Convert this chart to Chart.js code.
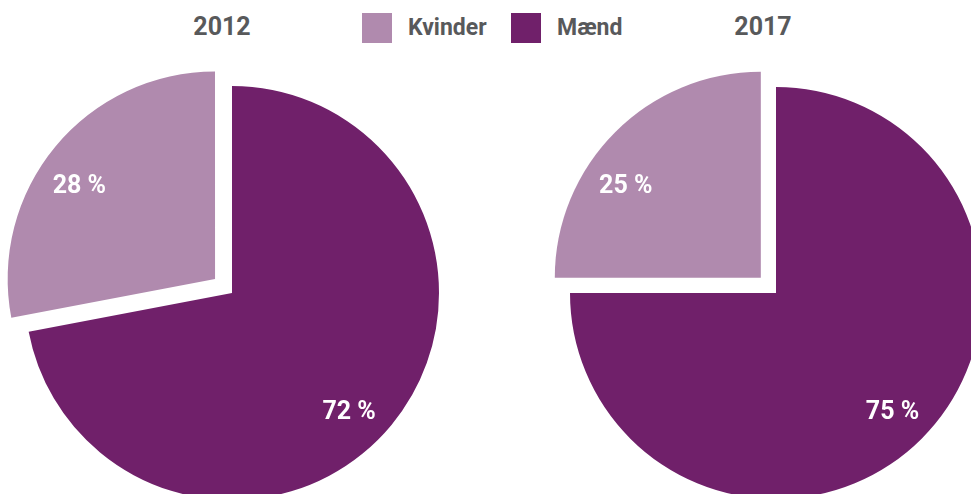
<!DOCTYPE html>
<html lang="da">
<head>
<meta charset="utf-8">
<title>Kvinder og mænd 2012 / 2017</title>
<script src="https://cdn.jsdelivr.net/npm/chart.js@4.4.0/dist/chart.umd.min.js"></script>
<style>
  html, body { margin: 0; padding: 0; background: #fff; }
  body { position: relative; width: 971px; height: 494px; overflow: hidden;
         font-family: Roboto, 'Open Sans', sans-serif; font-weight: 700; color: #58595b; }
  .pie-box { position: absolute; }
  .year { position: absolute; top: 15px; width: 100px; margin-left: -50px;
          text-align: center; font-size: 25px; line-height: 24px; }
  .sw { position: absolute; top: 13px; width: 30px; height: 30px; }
  .lbl { position: absolute; top: 13px; font-size: 23px; line-height: 30px; }
</style>
</head>
<body>

<div class="year" style="left:222px">2012</div>
<div class="year" style="left:763px">2017</div>
<div id="legend"></div>

<div class="pie-box" style="left:-19px; top:42px; width:502px; height:502px">
  <canvas id="pie-2012"></canvas>
</div>
<div class="pie-box" style="left:527px; top:44px; width:498px; height:498px">
  <canvas id="pie-2017"></canvas>
</div>

<script>
/* ── Data ─────────────────────────────────────────────────────── */
const CATEGORIES  = ['Mænd', 'Kvinder'];
const YEARS       = ['2012', '2017'];
const SHARE_2012  = [72, 28];
const SHARE_2017  = [75, 25];

const COLORS       = ['#70206a', '#b08aae'];
const LEGEND_ORDER = [1, 0];          /* Kvinder first, as in the legend */
const LEGEND_X     = [[362, 408], [511, 557]];  /* swatch / text left edge */

/* ── Legend (HTML) ────────────────────────────────────────────── */
document.getElementById('legend').innerHTML = LEGEND_ORDER.map((i, k) =>
  `<div class="sw" style="left:${LEGEND_X[k][0]}px;background:${COLORS[i]}"></div>` +
  `<span class="lbl" style="left:${LEGEND_X[k][1]}px">${CATEGORIES[i]}</span>`
).join('');

/* ── Percent labels inside the slices ─────────────────────────── */
/* labels sit at a fixed angle (deg, clockwise from top) per slice,
   measured from the slice's own (offset) centre                   */
const sliceLabels = {
  id: 'sliceLabels',
  afterDatasetsDraw(chart, args, opts) {
    const { ctx } = chart;
    const meta = chart.getDatasetMeta(0);
    const values = chart.data.datasets[0].data;
    ctx.save();
    ctx.fillStyle = '#ffffff';
    ctx.font = "700 25px Roboto, 'Open Sans', sans-serif";
    ctx.textAlign = 'center';
    ctx.textBaseline = 'middle';
    meta.data.forEach((arc, i) => {
      const { x, y, startAngle, endAngle, outerRadius } = arc.getProps(
        ['x', 'y', 'startAngle', 'endAngle', 'outerRadius'], true);
      const mid = (startAngle + endAngle) / 2;
      const shift = (arc.options.offset || 0) / 4;   /* v4 draws offset/4 */
      const a = (opts.angles[i] - 90) * Math.PI / 180;
      const r = outerRadius * 0.8;
      const lx = x + Math.cos(mid) * shift + Math.cos(a) * r;
      const ly = y + Math.sin(mid) * shift + Math.sin(a) * r + 3;
      ctx.fillText(`${values[i]} %`, lx, ly);
    });
    ctx.restore();
  },
};

/* ── Pies ─────────────────────────────────────────────────────── */
function makePie(id, shares, offset) {
  new Chart(document.getElementById(id), {
    type: 'pie',
    data: {
      labels: CATEGORIES,
      datasets: [{
        data: shares,
        backgroundColor: COLORS,
        borderWidth: 0,
        offset: [0, offset],
        hoverOffset: 0,
      }],
    },
    options: {
      responsive: true,
      maintainAspectRatio: false,
      animation: false,
      events: [],
      layout: { padding: 0 },
      plugins: {
        legend: { display: false },
        tooltip: { enabled: false },
        sliceLabels: { angles: [135, 305] },
      },
    },
    plugins: [sliceLabels],
  });
}

makePie('pie-2012', SHARE_2012, 88);
makePie('pie-2017', SHARE_2017, 86);
</script>
</body>
</html>
